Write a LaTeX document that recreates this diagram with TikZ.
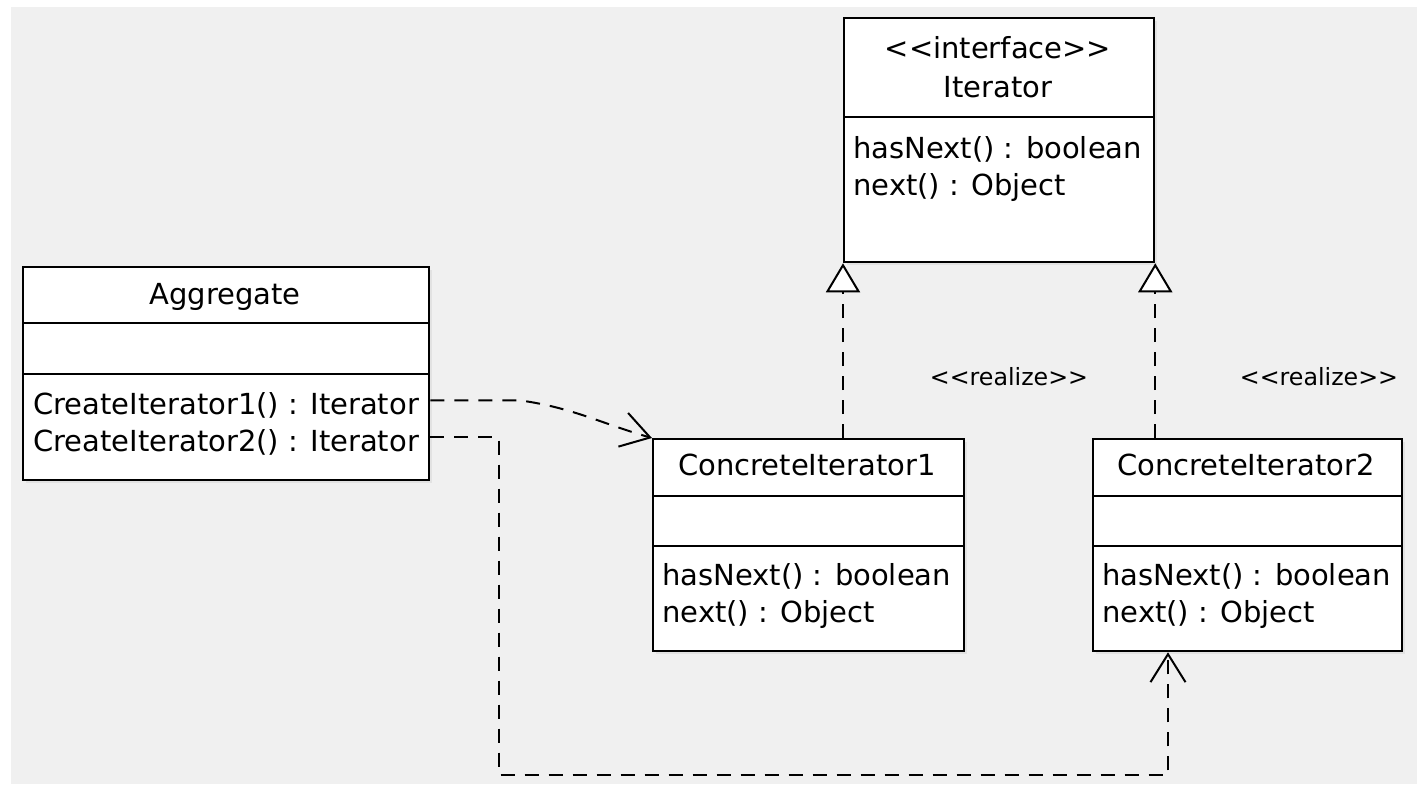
\documentclass[tikz,border=0pt]{standalone}
\usepackage{fontspec}
\newfontfamily\umlfont{DejaVu Sans}
\usepackage{tikz}
\usetikzlibrary{arrows.meta,shadows}
\definecolor{bg}{HTML}{F0F0F0}

\begin{document}
\begin{tikzpicture}[x=0.2mm,y=0.2mm,
    box/.style={draw, line width=0.45mm, fill=white, inner sep=0pt, anchor=north west,
      drop shadow={shadow xshift=0.5mm, shadow yshift=-0.5mm, opacity=0.12}},
    sep/.style={line width=0.45mm},
    txt/.style={inner sep=0pt, font=\umlfont\fontsize{16.5}{21}\selectfont},
    op/.style={txt, anchor=base west},
    hd/.style={txt, anchor=base},
    note/.style={inner sep=0pt, anchor=base, font=\umlfont\fontsize{13.5}{16}\selectfont},
    dep/.style={line width=0.4mm, dash pattern=on 2.8mm off 2mm},
    realize/.style={dep, -{Triangle[fill=white, length=5.8mm, width=6.8mm, line width=0.4mm]}},
    use/.style={dep, -{Straight Barb[length=5.6mm, width=7mm, line width=0.4mm]}}]
      \fill[white] (0,0) rectangle (1417,-784);
      \fill[bg] (11,-7) rectangle (1417,-784);
      \useasboundingbox (0,0) rectangle (1417,-784);
      \node (iter) at (843,-17) [box, minimum width=62mm, minimum height=48.8mm] {};
      \draw[sep] (iter.west |- 0,-117) -- (iter.east |- 0,-117);
      \node (iterS) at (998,-58) [hd] {<<interface>>};
      \node (iterN) at (998,-97) [hd] {Iterator};
      \node (iter1) at (853,-158) [op] {hasNext() : boolean};
      \node (iter2) at (853,-195) [op] {next() : Object};
      \node (agg) at (22,-266) [box, minimum width=81.2mm, minimum height=42.6mm] {};
      \draw[sep] (agg.west |- 0,-323) -- (agg.east |- 0,-323);
      \draw[sep] (agg.west |- 0,-374) -- (agg.east |- 0,-374);
      \node (aggN) at (225,-304) [hd] {Aggregate};
      \node (agg1) at (33,-414) [op] {CreateIterator1() : Iterator};
      \node (agg2) at (33,-451) [op] {CreateIterator2() : Iterator};
      \node (ci1) at (652,-438) [box, minimum width=62.2mm, minimum height=42.4mm] {};
      \draw[sep] (ci1.west |- 0,-496) -- (ci1.east |- 0,-496);
      \draw[sep] (ci1.west |- 0,-546) -- (ci1.east |- 0,-546);
      \node (ci1N) at (807,-475) [hd] {ConcreteIterator1};
      \node (ci1a) at (662,-585) [op] {hasNext() : boolean};
      \node (ci1b) at (662,-622) [op] {next() : Object};
      \node (ci2) at (1092,-438) [box, minimum width=61.8mm, minimum height=42.4mm] {};
      \draw[sep] (ci2.west |- 0,-496) -- (ci2.east |- 0,-496);
      \draw[sep] (ci2.west |- 0,-546) -- (ci2.east |- 0,-546);
      \node (ci2N) at (1246,-475) [hd] {ConcreteIterator2};
      \node (ci2a) at (1102,-585) [op] {hasNext() : boolean};
      \node (ci2b) at (1102,-622) [op] {next() : Object};
      \node (real1) at (1009,-385) [note] {<<realize>>};
      \node (real2) at (1319,-385) [note] {<<realize>>};
      \coordinate (c1) at (499,-775);
      \coordinate (c2) at (1168,-775);
      \draw[realize] (ci1.north -| iter.south west) to (iter.south west);
      \draw[realize] (ci2.north -| iter.south east) to (iter.south east);
      \draw[use] ([yshift=0.9mm]agg.east |- agg1) -- ++(90,0) to[out=-8,in=164] (ci1.north west);
      \draw[use] ([yshift=0.9mm]agg.east |- agg2) -| (c1) -- (c2) -- (ci2.south -| c2);
    \end{tikzpicture}
\end{document}
